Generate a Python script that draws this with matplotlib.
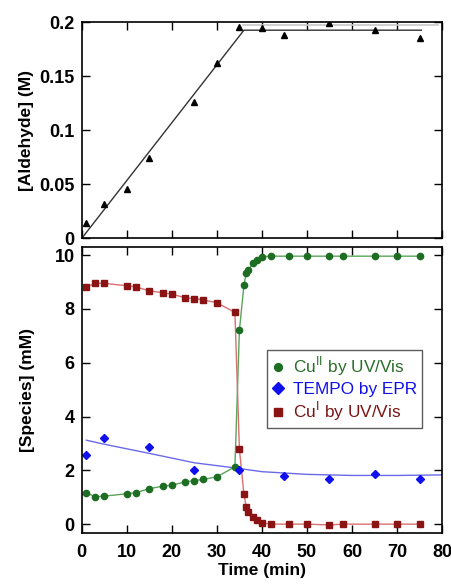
import matplotlib
matplotlib.use("Agg")
import matplotlib.pyplot as plt

plt.rcParams['font.family'] = ['Liberation Sans', 'DejaVu Sans']

# ---- Top panel: aldehyde ----
ald_t = [1, 5, 10, 15, 25, 30, 35, 40, 45, 55, 65, 75]
ald_v = [0.0139, 0.0315, 0.046, 0.074, 0.126, 0.162, 0.1957, 0.195, 0.188, 0.1988, 0.1926, 0.1855]
fit_t = [0, 36, 75.4]
fit_v = [0, 0.1926, 0.1926]
gray_t = [35.7, 79]
gray_v = [0.1972, 0.1972]

# ---- Bottom panel: species ----
cu2_t = [1, 3, 5, 10, 12, 15, 18, 20, 23, 25, 27, 30, 34, 35, 36, 36.5, 37, 38, 39, 40, 42, 46, 50, 55, 58, 65, 70, 75]
cu2_v = [1.16, 1.02, 1.04, 1.13, 1.17, 1.32, 1.41, 1.45, 1.57, 1.62, 1.66, 1.76, 2.13, 7.21, 8.88, 9.32, 9.45, 9.69, 9.81, 9.94, 9.96, 9.96, 9.96, 9.96, 9.96, 9.96, 9.96, 9.96]
cu1_t = [1, 3, 5, 10, 12, 15, 18, 20, 23, 25, 27, 30, 34, 35, 36, 36.5, 37, 38, 39, 40, 42, 46, 50, 55, 58, 65, 70, 75]
cu1_v = [8.82, 8.95, 8.95, 8.86, 8.82, 8.67, 8.60, 8.55, 8.41, 8.38, 8.33, 8.23, 7.87, 2.78, 1.12, 0.64, 0.46, 0.25, 0.15, 0.05, 0.0, 0.0, 0.0, -0.03, 0.0, 0.0, 0.0, 0.0]
tempo_t = [1, 5, 15, 25, 35, 45, 55, 65, 75]
tempo_v = [2.57, 3.22, 2.85, 2.03, 2.03, 1.78, 1.69, 1.85, 1.69]
tempo_fit_t = [1, 5, 15, 25, 34, 40, 50, 60, 70, 80]
tempo_fit_v = [3.12, 2.97, 2.63, 2.28, 2.09, 1.95, 1.85, 1.81, 1.81, 1.83]

xticks = [0, 10, 20, 30, 40, 50, 60, 70, 80]
ald_ticks = [0, 0.05, 0.1, 0.15, 0.2]
ald_ticklabels = ['0', '0.05', '0.1', '0.15', '0.2']
sp_ticks = [0, 2, 4, 6, 8, 10]

fig = plt.figure(figsize=(4.52, 5.84), dpi=100)
ax1 = fig.add_axes([0.181, 0.592, 0.797, 0.370])
ax2 = fig.add_axes([0.181, 0.0873, 0.797, 0.4897])

tick_fs = 13
for ax in (ax1, ax2):
    ax.tick_params(direction='in', length=6, width=1, top=True, right=True,
                   labelsize=tick_fs, pad=5)
    ax.tick_params(axis='x', pad=8)
    for s in ax.spines.values():
        s.set_linewidth(1.2)
    ax.set_xlim(0, 80)
    ax.set_xticks(xticks)

# top panel
ax1.plot(gray_t, gray_v, color='#c8c8c8', lw=1.2)
ax1.plot(fit_t, fit_v, color='#333333', lw=1.0)
ax1.plot(ald_t, ald_v, linestyle='none', marker='^', color='black', ms=5)
ax1.set_ylim(0, 0.2)
ax1.set_yticks(ald_ticks)
ax1.set_yticklabels(ald_ticklabels, fontweight='bold')
ax1.set_xticklabels([])
ax1.set_ylabel('[Aldehyde] (M)', fontsize=12.5, fontweight='bold', labelpad=4)

# bottom panel
ax2.plot(tempo_fit_t, tempo_fit_v, color='#6a6ae8', lw=1.0)
ax2.plot(cu2_t, cu2_v, color='#5aa55a', lw=1.0)
ax2.plot(cu1_t, cu1_v, color='#d87070', lw=1.0)
l2, = ax2.plot(cu2_t, cu2_v, linestyle='none', marker='o', color='#1d6e22', ms=4.5,
               label='Cu$^{\\mathrm{II}}$ by UV/Vis')
l3, = ax2.plot(tempo_t, tempo_v, linestyle='none', marker='D', color='#1010ee', ms=4.5,
               label='TEMPO by EPR')
l1, = ax2.plot(cu1_t, cu1_v, linestyle='none', marker='s', color='#8a1414', ms=4.5,
               label='Cu$^{\\mathrm{I}}$ by UV/Vis')
ax2.set_ylim(-0.33, 10.3)
ax2.set_yticks(sp_ticks)
ax2.set_yticklabels([str(v) for v in sp_ticks], fontweight='bold')
ax2.set_xticklabels([str(v) for v in xticks], fontweight='bold')
ax2.set_ylabel('[Species] (mM)', fontsize=12.5, fontweight='bold', labelpad=14)
ax2.set_xlabel('Time (min)', fontsize=12.5, fontweight='bold', labelpad=1)

leg = ax2.legend(handles=[l2, l3, l1], loc='upper left', bbox_to_anchor=(0.515, 0.64),
                 fontsize=12.4, frameon=True, fancybox=False, edgecolor='#333333',
                 handlelength=0.6, handletextpad=0.6, borderpad=0.3, labelspacing=0.2,
                 borderaxespad=0, markerscale=1.25)
leg.get_frame().set_linewidth(1.0)
for txt, c in zip(leg.get_texts(), ['#2a6e2a', '#1010ee', '#7a1414']):
    txt.set_color(c)

fig.savefig('out.png', dpi=100)
